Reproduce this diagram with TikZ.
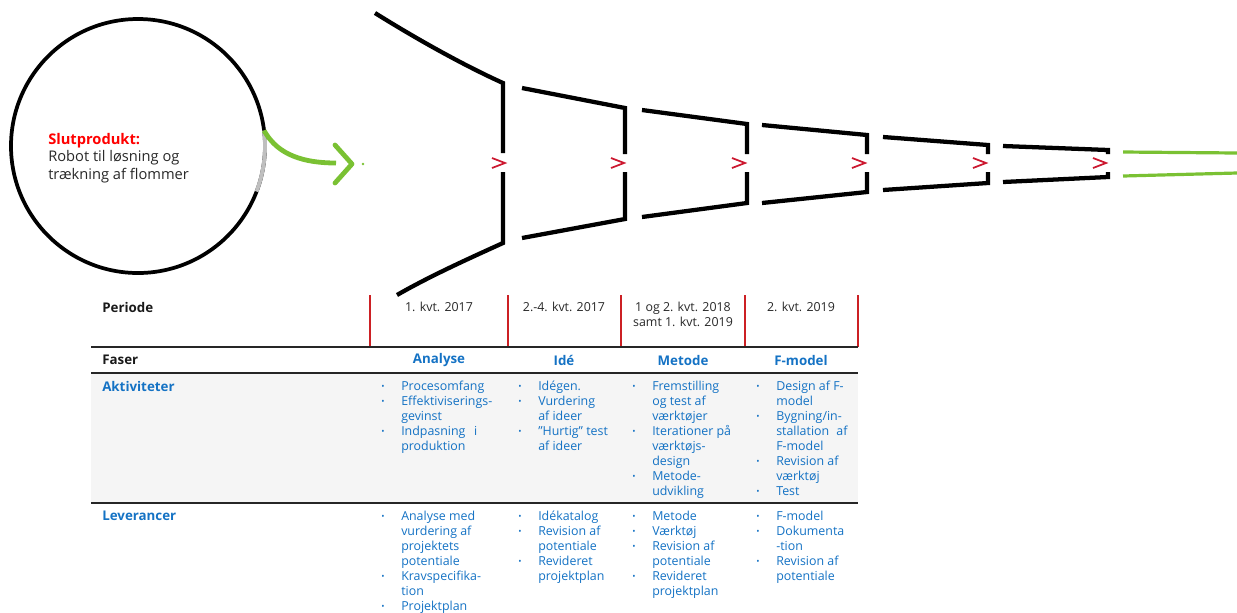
\documentclass[tikz,border=0pt]{standalone}
\usepackage{fontspec}
\setmainfont{Open Sans}
\usetikzlibrary{positioning}

\definecolor{fgreen}{RGB}{122,193,51}
\definecolor{chevred}{RGB}{204,24,48}
\definecolor{tred}{RGB}{204,32,36}
\definecolor{tblue}{RGB}{20,114,196}
\definecolor{rowgray}{RGB}{245,245,245}
\definecolor{txtgray}{RGB}{40,40,40}

\newcommand{\itm}{\makebox[15pt][l]{\raisebox{0.2ex}{\fontsize{6.5}{6.5}\selectfont\textbullet}}}
\newcommand{\ind}{\hspace*{15pt}}

\tikzset{
  funnel/.style={line width=3.2pt, draw=black},
  chev/.style={draw=chevred, line width=1.3pt},
  gline/.style={draw=fgreen, line width=2.4pt},
  tick/.style={draw=tred, line width=1.4pt},
  rule/.style={draw=black!85, line width=1.5pt},
  hd/.style={font=\bfseries, text=black!90, inner sep=0, anchor=west},
  per/.style={text=txtgray, inner sep=0, align=center},
  fase/.style={font=\bfseries, text=tblue, inner sep=0},
  items/.style={text=tblue, inner sep=0, align=left, anchor=north west},
}

\begin{document}
\begin{tikzpicture}[x=0.75pt, y=-0.75pt, font=\fontsize{9.3}{11.25}\selectfont]
\useasboundingbox (0,0) rectangle (1237,612);

% slutprodukt
\node[draw, circle, line width=2.8pt, minimum size=190.5pt, inner sep=0, outer sep=0] (prod) at (138,146) {};
\draw[line width=2.9pt, black!25] (prod.7) arc[start angle=7, end angle=-21, radius=95.25pt];
\node[inner sep=0, anchor=west, align=left, text=txtgray, font=\fontsize{11}{13}\selectfont] (slut) at (48,158)
  {\textcolor{red}{\bfseries Slutprodukt:}\\Robot til løsning og\\trækning af flommer};
\coordinate (gtip) at (336,163);
\draw[gline, line width=3.6pt] (prod.7) .. controls (275,150) and (295,163) .. (gtip);
\draw[gline, line width=3.6pt, line cap=round, line join=round] (335,145) -- (352,164) -- (335,183);
\fill[fgreen] (363,164) circle[radius=1.1pt];

% tragt
\draw[funnel] (375,13) .. controls (415,38) and (463,65) .. (503,83) -- (503,153);
\draw[funnel] (503,172) -- (503,243) .. controls (470,258) and (430,276) .. (397,295);
\foreach \xl/\xr/\tl/\tr/\bl/\br in {522/625/88/108/238/219, 642/747/110/124/217/203,
    762/867/125/135/203/192, 883/988/137/145/190/183, 1003/1108/146/150/182/177}{
  \draw[funnel] (\xl,\tl) -- (\xr,\tr) -- (\xr,154);
  \draw[funnel] (\xr,172) -- (\xr,\br) -- (\xl,\bl);
}
\foreach \x in {505,624,745,865,986,1106}
  \draw[chev] (\x-13,158) -- (\x,163) -- (\x-13,168);
\draw[gline] (1123,152) -- (1237,153);
\draw[gline] (1123,176) -- (1237,173);

% tabel
\fill[rowgray] (91,373) rectangle (858,503);
\foreach \x in {370,508,621,745,858}
  \draw[tick] (\x,295) -- (\x,347);
\draw[rule] (91,347) -- (858,347);
\draw[rule] (91,373) -- (858,373);
\draw[rule] (91,503) -- (858,503);

\node[hd] (periode) at (102,307) {Periode};
\node[hd] (faser) at (102,360) {Faser};
\node[fase, anchor=west] (aktiv) at (102,386) {Aktiviteter};
\node[fase, anchor=west] (lever) at (102,516) {Leverancer};

\node[per] (p1) at (439,307) {1. kvt. 2017};
\node[per] (p2) at (564,307) {2.-4. kvt. 2017};
\node[per] (p3) at (683,314.5) {1 og 2. kvt. 2018\\samt 1. kvt. 2019};
\node[per] (p4) at (801,307) {2. kvt. 2019};

\node[fase] (f1) at (439,360) {Analyse};
\node[fase] (f2) at (564,360) {Idé};
\node[fase] (f3) at (683,360) {Metode};
\node[fase] (f4) at (801,360) {F-model};

% aktiviteter
\node[items] (a1) at (381,381) {\itm Procesomfang\\\itm Effektiviserings-\\\ind gevinst\\\itm Indpasning\hspace{4pt} i\\\ind produktion};
\node[items] (a2) at (518,381) {\itm Idégen.\\\itm Vurdering\\\ind af ideer\\\itm ”Hurtig” test\\\ind af ideer};
\node[items] (a3) at (632,381) {\itm Fremstilling\\\ind og test af\\\ind værktøjer\\\itm Iterationer på\\\ind værktøjs-\\\ind design\\\itm Metode-\\\ind udvikling};
\node[items] (a4) at (756,381) {\itm Design af F-\\\ind model\\\itm Bygning/in-\\\ind stallation\hspace{3pt} af\\\ind F-model\\\itm Revision af\\\ind værktøj\\\itm Test};

% leverancer
\node[items] (l1) at (381,511) {\itm Analyse med\\\ind vurdering af\\\ind projektets\\\ind potentiale\\\itm Kravspecifika-\\\ind tion\\\itm Projektplan};
\node[items] (l2) at (518,511) {\itm Idékatalog\\\itm Revision af\\\ind potentiale\\\itm Revideret\\\ind projektplan};
\node[items] (l3) at (632,511) {\itm Metode\\\itm Værktøj\\\itm Revision af\\\ind potentiale\\\itm Revideret\\\ind projektplan};
\node[items] (l4) at (756,511) {\itm F-model\\\itm Dokumenta\\\ind -tion\\\itm Revision af\\\ind potentiale};
\end{tikzpicture}
\end{document}
